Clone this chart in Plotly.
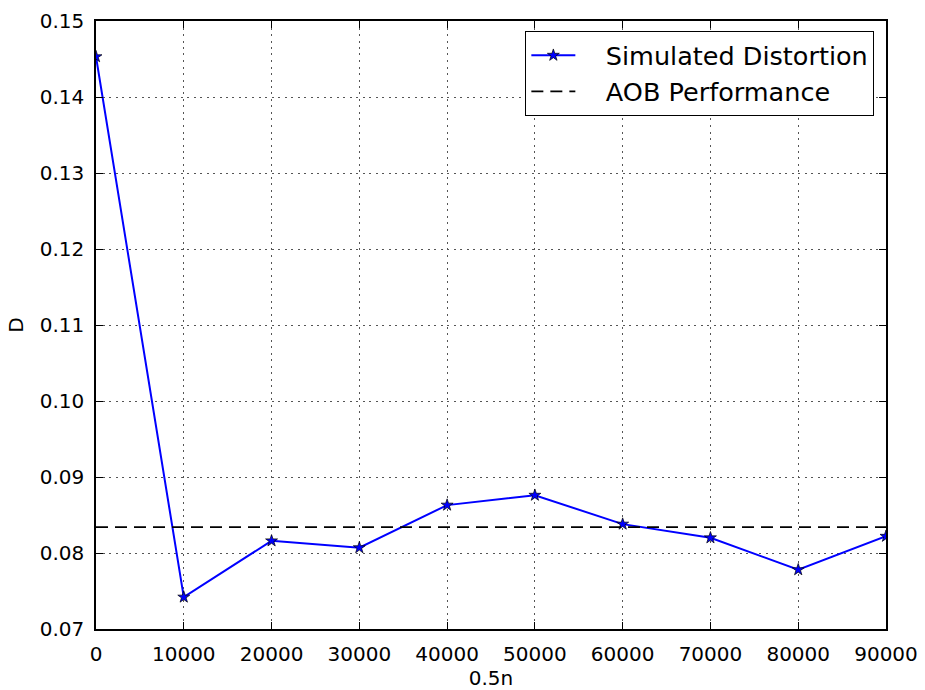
import plotly.graph_objects as go

x_vals = [0, 10000, 20000, 30000, 40000, 50000, 60000, 70000, 80000, 90000]
d_sim = [0.1453, 0.0742, 0.0816, 0.0807, 0.0863, 0.0876, 0.0838, 0.0820, 0.0778, 0.0822]
aob_level = 0.0834
x_ticks = [0, 10000, 20000, 30000, 40000, 50000, 60000, 70000, 80000, 90000]
y_ticks = [0.07, 0.08, 0.09, 0.10, 0.11, 0.12, 0.13, 0.14, 0.15]

FONT = "DejaVu Sans"
PAD = "\u2002\u2002"

fig = go.Figure()
fig.add_trace(go.Scatter(
    x=x_vals, y=d_sim, mode="lines+markers", name=PAD + "Simulated Distortion",
    line=dict(color="#0000ff", width=2),
    marker=dict(symbol="star", size=9, color="#0000ff", line=dict(color="black", width=0.7)),
))
fig.add_trace(go.Scatter(
    x=[x_ticks[0], x_ticks[-1]], y=[aob_level, aob_level], mode="lines", name=PAD + "AOB Performance",
    line=dict(color="black", width=1.8, dash="12px,7px"),
))

axis_common = dict(
    showline=True, linecolor="black", linewidth=1.5, mirror="ticks",
    ticks="inside", ticklen=7, tickcolor="black", tickwidth=1,
    showgrid=True, gridcolor="#555", gridwidth=1, griddash="2px,4.5px",
    zeroline=False, tickfont=dict(family=FONT, size=20, color="black"),
    ticklabelstandoff=6,
)

fig.update_xaxes(
    range=[0, 90000], tickvals=x_ticks, ticktext=[str(v) for v in x_ticks],
    title=dict(text="0.5n", font=dict(family=FONT, size=20, color="black"), standoff=12),
    **axis_common,
)
fig.update_yaxes(
    range=[0.07, 0.15], tickvals=y_ticks, ticktext=[f"{v:.2f}" for v in y_ticks],
    title=dict(text="D", font=dict(family=FONT, size=20, color="black"), standoff=11),
    **axis_common,
)

fig.update_layout(
    width=925, height=690,
    margin=dict(l=96, r=39, t=21, b=61, autoexpand=False),
    plot_bgcolor="white", paper_bgcolor="white",
    font=dict(family=FONT, color="black"),
    legend=dict(
        x=0.985, y=0.9836, xanchor="right", yanchor="top",
        bgcolor="white", bordercolor="black", borderwidth=1.2,
        font=dict(family=FONT, size=25.5, color="black"),
        itemwidth=44, tracegroupgap=0,
    ),
    showlegend=True,
)

fig.write_html("out.html")
